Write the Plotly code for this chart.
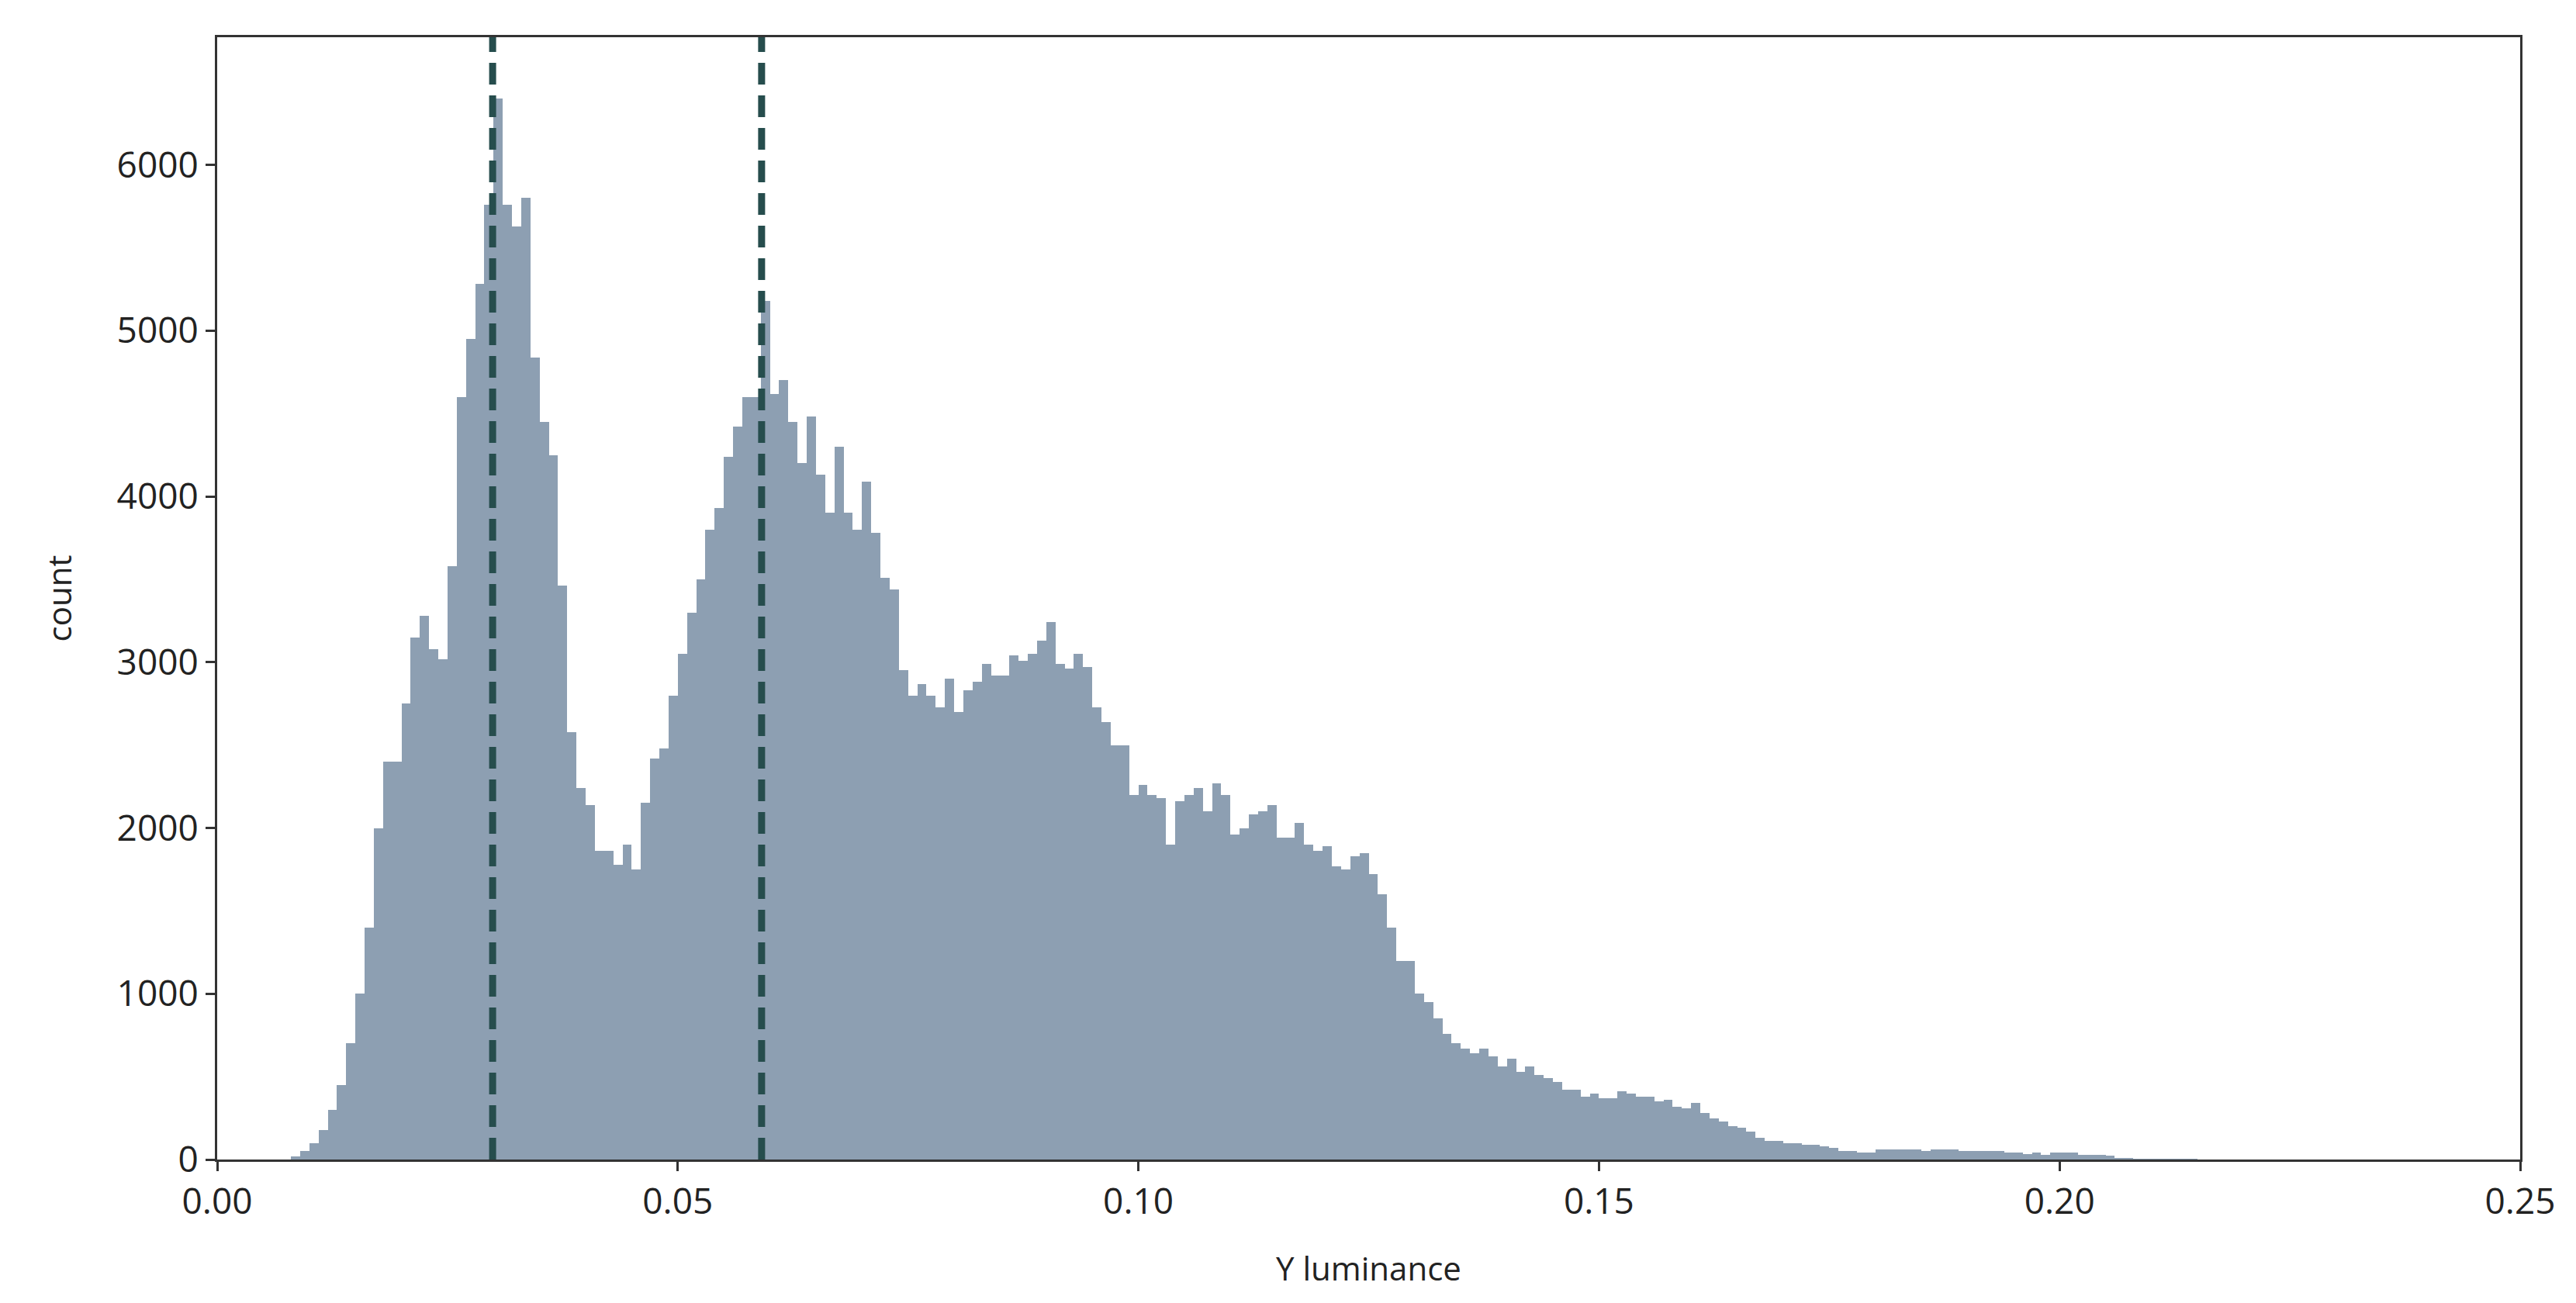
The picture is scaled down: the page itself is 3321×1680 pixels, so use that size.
import plotly.graph_objects as go

# histogram of Y luminance, bins of width 0.001 starting at 0.008
bin_start = 0.008
bin_width = 0.001
counts = [
    20, 50, 100, 180, 300, 450, 700, 1000, 1400, 2000,
    2400, 2400, 2750, 3150, 3280, 3080, 3020, 3580, 4600, 4950,
    5280, 5760, 6400, 5760, 5630, 5800, 4840, 4450, 4250, 3460,
    2580, 2240, 2140, 1860, 1860, 1780, 1900, 1750, 2150, 2420,
    2480, 2800, 3050, 3300, 3500, 3800, 3930, 4240, 4420, 4600,
    4600, 5180, 4620, 4700, 4450, 4200, 4480, 4130, 3900, 4300,
    3900, 3800, 4090, 3780, 3510, 3440, 2950, 2800, 2870, 2800,
    2730, 2900, 2700, 2830, 2880, 2990, 2920, 2920, 3040, 3010,
    3050, 3130, 3240, 2990, 2960, 3050, 2970, 2730, 2640, 2500,
    2500, 2200, 2260, 2200, 2180, 1900, 2160, 2200, 2240, 2100,
    2270, 2200, 1960, 2000, 2080, 2100, 2140, 1940, 1940, 2030,
    1900, 1860, 1890, 1770, 1750, 1830, 1850, 1720, 1600, 1400,
    1200, 1200, 1000, 950, 850, 760, 700, 670, 640, 670,
    620, 560, 610, 530, 560, 510, 490, 470, 420, 420,
    380, 400, 370, 370, 410, 400, 380, 380, 350, 360,
    320, 310, 340, 280, 250, 230, 200, 190, 170, 130,
    110, 110, 100, 100, 90, 90, 80, 70, 50, 50,
    40, 40, 60, 60, 60, 60, 60, 50, 60, 60,
    60, 50, 50, 50, 50, 50, 40, 40, 35, 40,
    30, 40, 40, 40, 30, 30, 30, 25, 10, 5,
    4, 3, 2, 2, 1, 1, 1,
]
bin_centers = [bin_start + (i + 0.5) * bin_width for i in range(len(counts))]

# the two marked peaks
peaks = [0.0299, 0.0591]

fig = go.Figure()
fig.add_trace(go.Bar(x=bin_centers, y=counts, width=bin_width,
                     marker=dict(color="#8d9fb2", line=dict(width=0)),
                     showlegend=False))

for p in peaks:
    fig.add_vline(x=p, line=dict(color="#264d4d", width=9, dash="28px,14px"))

axis_style = dict(showline=True, linecolor="#333333", linewidth=3, mirror=True,
                  ticks="outside", ticklen=12, tickwidth=3, tickcolor="#333333",
                  showgrid=False, zeroline=False,
                  tickfont=dict(size=46, color="#222222"))

fig.update_layout(
    width=3321, height=1680,
    paper_bgcolor="white", plot_bgcolor="white",
    font=dict(family="Open Sans", size=42, color="#222222"),
    margin=dict(l=272, r=80, t=40, b=193),
    bargap=0,
    xaxis=dict(range=[0, 0.25], tickvals=[0, 0.05, 0.1, 0.15, 0.2, 0.25],
               ticktext=["0.00", "0.05", "0.10", "0.15", "0.20", "0.25"],
               title=dict(text="Y luminance", font=dict(size=42), standoff=45),
               **axis_style),
    yaxis=dict(range=[0, 6770], tickvals=[0, 1000, 2000, 3000, 4000, 5000, 6000],
               title=dict(text="count", font=dict(size=42), standoff=45),
               **axis_style),
)

fig.write_html("out.html")
